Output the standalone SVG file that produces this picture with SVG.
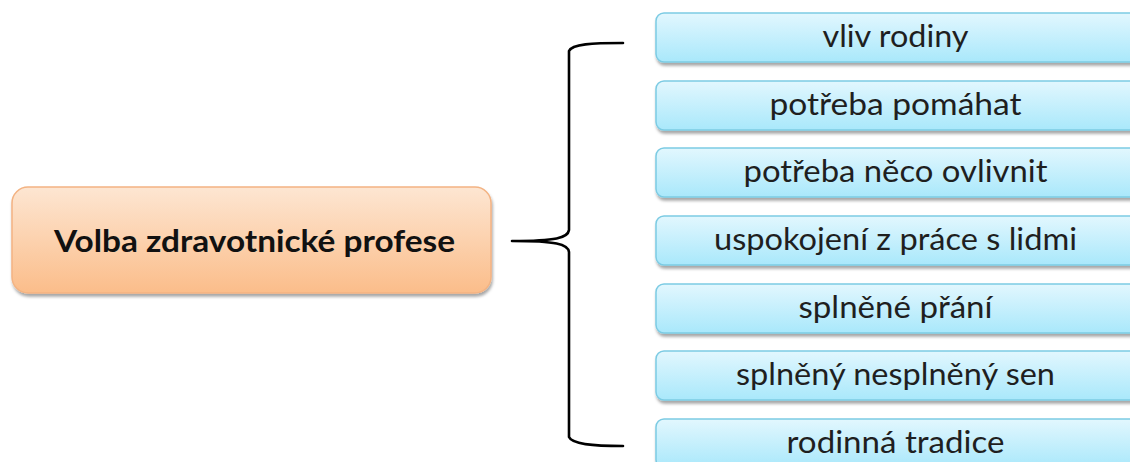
<svg xmlns="http://www.w3.org/2000/svg" width="1130" height="462" viewBox="0 0 1130 462">
  <defs>
    <linearGradient id="gOrange" x1="0" y1="0" x2="0" y2="1">
      <stop offset="0" stop-color="#fde6d2"/>
      <stop offset="1" stop-color="#fbbd8a"/>
    </linearGradient>
    <linearGradient id="gBlue" x1="0" y1="0" x2="0" y2="1">
      <stop offset="0" stop-color="#e2f7fe"/>
      <stop offset="1" stop-color="#a9e8fb"/>
    </linearGradient>
    <filter id="shadow" x="-5%" y="-20%" width="115%" height="160%">
      <feDropShadow dx="1" dy="3" stdDeviation="1.5" flood-color="#000" flood-opacity="0.35"/>
    </filter>
  </defs>
  <style>
    .main { fill: url(#gOrange); stroke: #f3b383; stroke-width: 1.5; filter: url(#shadow); }
    .item { fill: url(#gBlue); stroke: #7ccbe3; stroke-width: 1.5; filter: url(#shadow); }
    .t { font-family: Lato, "Open Sans", "Liberation Sans", sans-serif; font-size: 31px; fill: #1f1f1f; text-anchor: middle; }
    .tb { font-family: Lato, "Open Sans", "Liberation Sans", sans-serif; font-size: 31px; font-weight: bold; fill: #111; text-anchor: middle; }
    .brace { fill: none; stroke: #000; stroke-width: 2.6; stroke-linecap: round; stroke-linejoin: round; }
  </style>
  <rect width="1130" height="462" fill="#fff"/>

  <g id="node-main">
    <rect class="main" x="12" y="187" width="479" height="106" rx="16"/>
    <text class="tb" x="254.5" y="252" textLength="401" lengthAdjust="spacingAndGlyphs">Volba zdravotnické profese</text>
  </g>

  <g id="connectors">
    <path class="brace" d="M623,43 C592,43 572,44 569,51 L569,230 C568,238 556,241 512,241 C556,241 568,244 569,252 L569,437 C572,444 592,446 623,446"/>
  </g>

  <g id="node-1">
    <rect class="item" x="656" y="13" width="490" height="49" rx="8"/>
    <text class="t" x="895.5" y="47" textLength="146" lengthAdjust="spacingAndGlyphs">vliv rodiny</text>
  </g>
  <g id="node-2">
    <rect class="item" x="656" y="81" width="490" height="49" rx="8"/>
    <text class="t" x="895.5" y="115" textLength="252" lengthAdjust="spacingAndGlyphs">potřeba pomáhat</text>
  </g>
  <g id="node-3">
    <rect class="item" x="656" y="148" width="490" height="49" rx="8"/>
    <text class="t" x="895.5" y="182" textLength="304" lengthAdjust="spacingAndGlyphs">potřeba něco ovlivnit</text>
  </g>
  <g id="node-4">
    <rect class="item" x="656" y="216" width="490" height="49" rx="8"/>
    <text class="t" x="895.5" y="250" textLength="363" lengthAdjust="spacingAndGlyphs">uspokojení z práce s lidmi</text>
  </g>
  <g id="node-5">
    <rect class="item" x="656" y="284" width="490" height="49" rx="8"/>
    <text class="t" x="895.5" y="318" textLength="194" lengthAdjust="spacingAndGlyphs">splněné přání</text>
  </g>
  <g id="node-6">
    <rect class="item" x="656" y="351" width="490" height="49" rx="8"/>
    <text class="t" x="895.5" y="385" textLength="319" lengthAdjust="spacingAndGlyphs">splněný nesplněný sen</text>
  </g>
  <g id="node-7">
    <rect class="item" x="656" y="419" width="490" height="49" rx="8"/>
    <text class="t" x="895.5" y="453" textLength="218" lengthAdjust="spacingAndGlyphs">rodinná tradice</text>
  </g>
</svg>
